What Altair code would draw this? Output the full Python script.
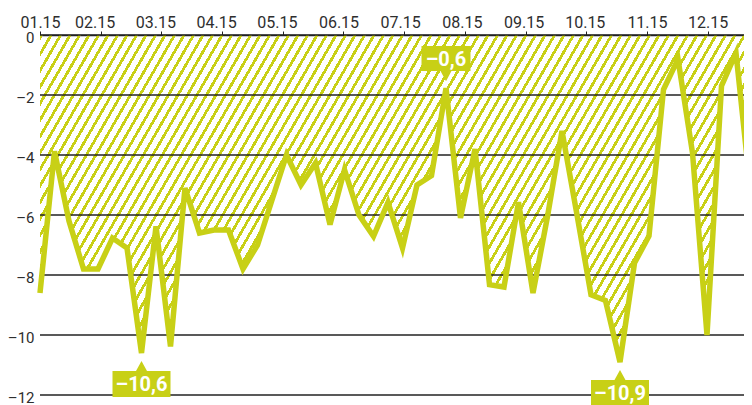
import math
import altair as alt
import pandas as pd

# ---- data (weekly values, 2015) ----
values = [-8.6, -3.88, -6.2, -7.8, -7.8, -6.77, -7.1, -10.6, -6.38, -10.38,
          -5.1, -6.6, -6.5, -6.5, -7.8, -7.0, -5.5, -4.0, -5.0, -4.27,
          -6.32, -4.49, -6.0, -6.71, -5.58, -7.1, -5.0, -4.69, -1.77, -6.1,
          -3.8, -8.32, -8.4, -5.57, -8.6, -6.05, -3.2, -5.9, -8.66, -8.85,
          -10.9, -7.6, -6.7, -1.82, -0.8, -3.93, -10.0, -1.7, -0.6, -5.2]
month_labels = ["01.15", "02.15", "03.15", "04.15", "05.15", "06.15",
                "07.15", "08.15", "09.15", "10.15", "11.15", "12.15"]
y_ticks = [0, -2, -4, -6, -8, -10, -12]
ann_index = [28, 7, 40]
ann_text = ["–0,6", "–10,6", "–10,9"]
ann_side = ["above", "below", "below"]

# ---- styling / layout constants ----
COLOR = "#c8d016"
TEXT = "#2e2e2e"
GRID = "#222222"
FONT = "Roboto"
WEEKS_PER_MONTH = 4.186
PX_PER_WEEK = 14.5
W_PX, H_PX = 704, 360
X_MAX = W_PX / PX_PER_WEEK
# small horizontal nudges of the month labels relative to their ticks (px)
label_nudge = [0, -6, -6, -6, -6, -5, -4, -3, -2, -1.5, 0, 0]

df = pd.DataFrame({"i": list(range(len(values))), "v": values})
ann = pd.DataFrame({
    "i": ann_index,
    "v": [values[k] for k in ann_index],
    "t": ann_text,
    "side": ann_side,
})
grid = pd.DataFrame({"v": y_ticks})

# ---- hatch fill built as a striped linear gradient (objectBoundingBox units) ----
bw = PX_PER_WEEK * (len(values) - 1)
bh = H_PX / 12 * (-min(values))
ang = math.radians(60)
nx, ny = math.sin(ang), math.cos(ang)
k = (nx * bw + ny * bh) / (nx * nx * bw * bw + ny * ny * bh * bh)
gx2, gy2 = nx * bw * k, ny * bh * k
period = 9.5 * nx
n_stripes = (nx * bw + ny * bh) / period
ds = 1.0 / n_stripes
frac = 0.34
clear = "rgba(255,255,255,0)"
stops = []
j = 0
while j * ds < 1.0:
    s0 = j * ds
    s1 = min(1.0, s0 + frac * ds)
    s2 = min(1.0, s0 + ds)
    stops += [{"offset": round(s0, 6), "color": COLOR},
              {"offset": round(s1, 6), "color": COLOR},
              {"offset": round(s1, 6), "color": clear},
              {"offset": round(s2, 6), "color": clear}]
    j += 1
hatch = {"gradient": "linear", "x1": 0, "y1": 0, "x2": gx2, "y2": gy2, "stops": stops}

tick_vals = [m * WEEKS_PER_MONTH for m in range(len(month_labels))]
idx_expr = "round(datum.value / %s)" % WEEKS_PER_MONTH
label_expr = "[" + ",".join("'" + s + "'" for s in month_labels) + "][" + idx_expr + "]"
offset_expr = "[" + ",".join(str(n) for n in label_nudge) + "][" + idx_expr + "]"

xscale = alt.Scale(domain=[0, X_MAX], nice=False, zero=False)
yscale = alt.Scale(domain=[-12, 0], nice=False)

x_axis = alt.Axis(orient="top", values=tick_vals, labelExpr=label_expr, grid=False,
                  domain=True, domainColor=GRID, domainWidth=1.4,
                  ticks=True, tickSize=4, tickColor=GRID, tickWidth=1,
                  labelFont=FONT, labelFontSize=16, labelColor=TEXT, labelPadding=1,
                  labelAlign="center", labelOffset={"expr": offset_expr},
                  labelFlush=False, labelOverlap=False, title=None)
y_axis = alt.Axis(values=y_ticks, labelExpr="datum.value == 0 ? '0' : '–' + abs(datum.value)",
                  grid=False, domain=False, ticks=False, labelPadding=6,
                  labelFont=FONT, labelFontSize=15, labelColor=TEXT, labelOffset=2, title=None)

X = alt.X("i:Q", scale=xscale, axis=x_axis, title=None)
Y = alt.Y("v:Q", scale=yscale, axis=y_axis, title=None)

area = alt.Chart(df).mark_area(fill=hatch, interpolate="linear").encode(x=X, y=Y)

rules = alt.Chart(grid).mark_rule(color=GRID, strokeWidth=1.3).encode(y=Y)

line = alt.Chart(df).mark_line(color=COLOR, strokeWidth=5.5).encode(x=X, y=Y)

PATH_DOWN = "M-1,-0.51L1,-0.51L1,0.51L0.224,0.51L0,0.92L-0.224,0.51L-1,0.51Z"
PATH_UP = "M-1,0.448L1,0.448L1,-0.448L0.19,-0.448L0,-0.793L-0.19,-0.448L-1,-0.448Z"
OFF_ABOVE, OFF_BELOW = -29.5, 31.0

box_above = alt.Chart(ann).transform_filter("datum.side == 'above'").mark_point(
    shape=PATH_DOWN, size=2401, filled=True, fill=COLOR, opacity=1, strokeWidth=0,
    yOffset=OFF_ABOVE).encode(x=X, y=Y)
box_below = alt.Chart(ann).transform_filter("datum.side == 'below'").mark_point(
    shape=PATH_UP, size=3364, filled=True, fill=COLOR, opacity=1, strokeWidth=0,
    yOffset=OFF_BELOW).encode(x=X, y=Y)
txt_above = alt.Chart(ann).transform_filter("datum.side == 'above'").mark_text(
    color="white", font=FONT, fontSize=20, fontWeight="bold", baseline="middle",
    align="center", yOffset=OFF_ABOVE + 1).encode(text="t:N", x=X, y=Y)
txt_below = alt.Chart(ann).transform_filter("datum.side == 'below'").mark_text(
    color="white", font=FONT, fontSize=20, fontWeight="bold", baseline="middle",
    align="center", yOffset=OFF_BELOW + 1).encode(text="t:N", x=X, y=Y)

chart = alt.layer(area, rules, line, box_above, box_below, txt_above, txt_below).properties(
    width=W_PX, height=H_PX,
    autosize=alt.AutoSizeParams(type="none"),
    padding={"left": 32, "top": 27, "right": 0, "bottom": 10},
    background="white",
).configure_view(stroke=None)

chart.save("out.html", embed_options={"renderer": "svg", "actions": False})
